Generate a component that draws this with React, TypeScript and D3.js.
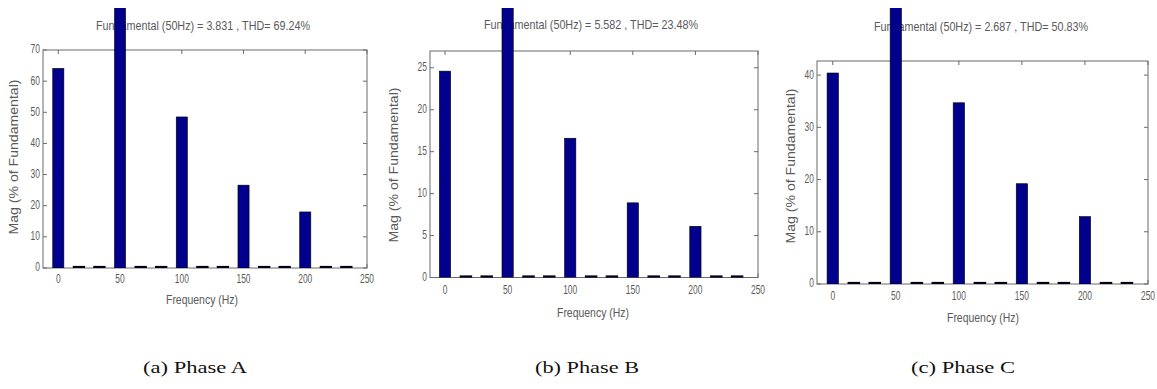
import React from "react";
import * as d3 from "d3";

const freqs = [0, 16.7, 33.3, 50, 66.7, 83.3, 100, 116.7, 133.3, 150, 166.7, 183.3, 200, 216.7, 233.3];
const magA = [64.1, 0.3, 0.3, 100, 0.3, 0.3, 48.5, 0.3, 0.3, 26.6, 0.3, 0.3, 18.0, 0.3, 0.3];
const magB = [24.6, 0.15, 0.15, 100, 0.15, 0.15, 16.6, 0.15, 0.15, 8.9, 0.15, 0.15, 6.1, 0.15, 0.15];
const magC = [40.4, 0.2, 0.2, 100, 0.2, 0.2, 34.7, 0.2, 0.2, 19.2, 0.2, 0.2, 12.9, 0.2, 0.2];
const xTicks = [0, 50, 100, 150, 200, 250];
const yTicksA = [0, 10, 20, 30, 40, 50, 60, 70];
const yTicksB = [0, 5, 10, 15, 20, 25];
const yTicksC = [0, 10, 20, 30, 40];
const titles = [
  "Fundamental (50Hz) = 3.831 , THD= 69.24%",
  "Fundamental (50Hz) = 5.582 , THD= 23.48%",
  "Fundamental (50Hz) = 2.687 , THD= 50.83%",
];
const captions = ["(a) Phase A", "(b) Phase B", "(c) Phase C"];
const yMax = [70, 27, 42.7];

const layouts = [
  { left: 43, right: 367, top: 50, bottom: 268, x0: -12.4, titleX: 203, titleY: 27, ylabX: 15, ylabY: 157, capX: 195, xlabX: 202, xlabY: 301, tickDy: 12 },
  { left: 430, right: 758, top: 51, bottom: 277.5, x0: -12, titleX: 591, titleY: 26, ylabX: 395, ylabY: 165, capX: 587, xlabX: 593, xlabY: 314, tickDy: 13.5 },
  { left: 817, right: 1148, top: 61, bottom: 284, x0: -12.5, titleX: 981, titleY: 28, ylabX: 792, ylabY: 166, capX: 963, xlabX: 983, xlabY: 319, tickDy: 13 },
];

const FONT = "'Liberation Sans', Arial, sans-serif";
const TXT = "#5a5a5a";
const BAR = "#00008c";
const DIGIT_W = 4.7;

function Panel({ i, mags, yTicks }: { i: number; mags: number[]; yTicks: number[] }) {
  const L = layouts[i];
  const x = d3.scaleLinear().domain([L.x0, 250]).range([L.left, L.right]);
  const y = d3.scaleLinear().domain([0, yMax[i]]).range([L.bottom, L.top]);
  const bw = x(9) - x(0);
  const tl = 4;
  return (
    <g>
      <defs>
        <clipPath id={`clip${i}`}>
          <rect x={L.left} y={8} width={L.right - L.left} height={L.bottom - 8} />
        </clipPath>
      </defs>
      <text x={L.titleX} y={L.titleY} textAnchor="middle" dominantBaseline="middle" fontSize={13} fill={TXT} fontFamily={FONT} textLength={214} lengthAdjust="spacingAndGlyphs">
        {titles[i]}
      </text>
      <rect x={L.left} y={L.top} width={L.right - L.left} height={L.bottom - L.top} fill="none" stroke="#6a6a6a" strokeWidth={1} />
      {yTicks.map((t) => (
        <g key={"y" + t}>
          <line x1={L.left} x2={L.left + tl} y1={y(t)} y2={y(t)} stroke="#6a6a6a" />
          <line x1={L.right} x2={L.right - tl} y1={y(t)} y2={y(t)} stroke="#6a6a6a" />
          <text x={L.left - 3} y={y(t)} textAnchor="end" dominantBaseline="middle" fontSize={13} fill={TXT} fontFamily={FONT} textLength={String(t).length * DIGIT_W} lengthAdjust="spacingAndGlyphs">
            {t}
          </text>
        </g>
      ))}
      {xTicks.map((t) => (
        <g key={"x" + t}>
          <line x1={x(t)} x2={x(t)} y1={L.bottom} y2={L.bottom - tl} stroke="#6a6a6a" />
          <line x1={x(t)} x2={x(t)} y1={L.top} y2={L.top + tl} stroke="#6a6a6a" />
          <text x={x(t)} y={L.bottom + L.tickDy} textAnchor="middle" dominantBaseline="middle" fontSize={13} fill={TXT} fontFamily={FONT} textLength={String(t).length * DIGIT_W} lengthAdjust="spacingAndGlyphs">
            {t}
          </text>
        </g>
      ))}
      <g clipPath={`url(#clip${i})`}>
        {freqs.map((f, k) => {
          const h = Math.max(L.bottom - y(mags[k]), 1.5);
          return (
            <rect key={k} x={x(f) - bw / 2} y={L.bottom - h} width={bw} height={h} fill={BAR} stroke="#000" strokeWidth={mags[k] < 1 ? 1.2 : 0.6} />
          );
        })}
      </g>
      <text x={L.xlabX} y={L.xlabY} textAnchor="middle" dominantBaseline="middle" fontSize={13} fill={TXT} fontFamily={FONT} textLength={72} lengthAdjust="spacingAndGlyphs">
        Frequency (Hz)
      </text>
      <text transform={`translate(${L.ylabX},${L.ylabY}) rotate(-90)`} textAnchor="middle" dominantBaseline="middle" fontSize={13} fill={TXT} fontFamily={FONT} textLength={155} lengthAdjust="spacingAndGlyphs">
        Mag (% of Fundamental)
      </text>
      <text x={L.capX} y={369} textAnchor="middle" dominantBaseline="middle" fontSize={17} fill="#111" fontFamily="'Liberation Serif', 'Times New Roman', serif" textLength={104} lengthAdjust="spacingAndGlyphs">
        {captions[i]}
      </text>
    </g>
  );
}

export default function App() {
  return (
    <svg width={1157} height={389} style={{ position: "absolute", left: 0, top: 0, background: "#fff" }}>
      <rect width={1157} height={389} fill="#fff" />
      <Panel i={0} mags={magA} yTicks={yTicksA} />
      <Panel i={1} mags={magB} yTicks={yTicksB} />
      <Panel i={2} mags={magC} yTicks={yTicksC} />
    </svg>
  );
}
